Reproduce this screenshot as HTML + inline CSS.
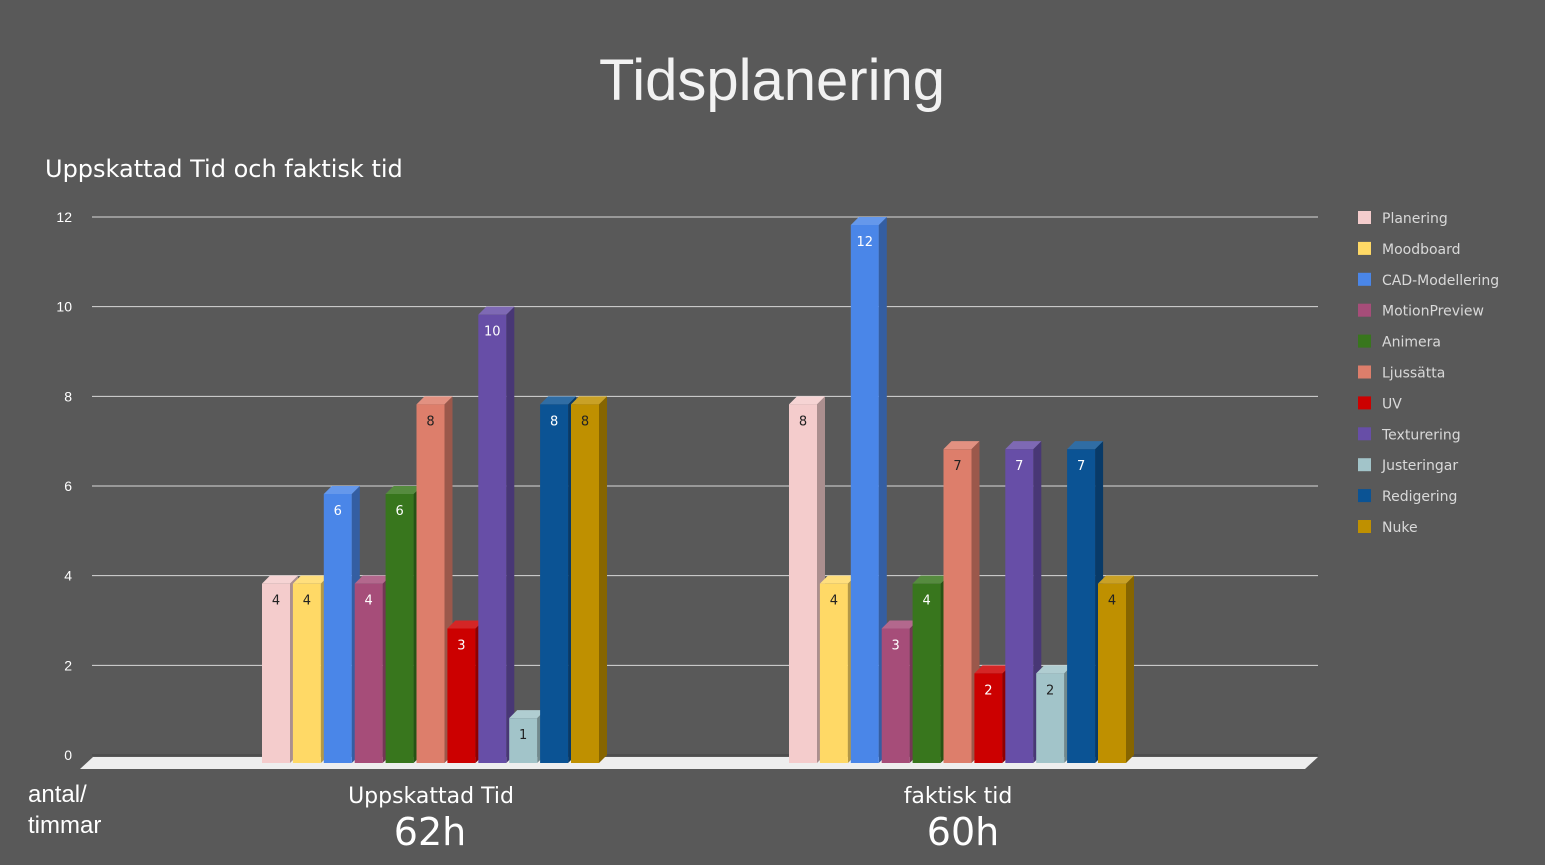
<!DOCTYPE html>
<html><head><meta charset="utf-8"><style>
body{margin:0;background:#595959;}
svg{display:block;font-family:"Liberation Sans","DejaVu Sans",sans-serif;}
</style></head><body>
<svg id="chart" width="1545" height="865">
<rect width="1545" height="865" fill="#595959"/>
<text x="772" y="100" text-anchor="middle" font-size="58" fill="#f2f2f2">Tidsplanering</text>
<text x="45" y="177" font-size="24" fill="#ffffff" font-family="DejaVu Sans">Uppskattad Tid och faktisk tid</text>
<g id="grid"></g>
<polygon points="80,769 93,757 1318,757 1305,769" fill="#eeeeee"/>
<g id="bars"></g>
<g id="legend"></g>
<text x="28" y="802" font-size="24" fill="#fff">antal/</text>
<text x="28" y="833" font-size="24" fill="#fff">timmar</text>
<text x="431" y="803" text-anchor="middle" font-size="22" fill="#fff" font-family="DejaVu Sans">Uppskattad Tid</text>
<text x="958" y="803" text-anchor="middle" font-size="22" fill="#fff" font-family="DejaVu Sans">faktisk tid</text>
<text x="430" y="845" text-anchor="middle" font-size="38" fill="#fff" font-family="DejaVu Sans">62h</text>
<text x="963" y="845" text-anchor="middle" font-size="38" fill="#fff" font-family="DejaVu Sans">60h</text>
</svg>
<script>
const categories=["Uppskattad Tid","faktisk tid"];
const seriesNames=["Planering","Moodboard","CAD-Modellering","MotionPreview","Animera","Ljussätta","UV","Texturering","Justeringar","Redigering","Nuke"];
const estimated=[4,4,6,4,6,8,3,10,1,8,8];
const actual=[8,4,12,3,4,7,2,7,2,7,4];
const yTicks=[0,2,4,6,8,10,12];
const colors=["#f4cccc","#ffd966","#4a86e8","#a64d79","#38761d","#dd7e6b","#cc0000","#674ea7","#a2c4c9","#0b5394","#bf9000"];
const darkText=[true,true,false,false,false,true,false,false,true,false,true];
const NS="http://www.w3.org/2000/svg";
const y=v=>755-v*(538/12);
const groupStart=[262,789],step=30.9,bw=28,d=8;
function mk(tag,attrs,parent){const e=document.createElementNS(NS,tag);for(const k in attrs)e.setAttribute(k,attrs[k]);parent.appendChild(e);return e;}
function shade(c,f){const n=parseInt(c.slice(1),16);let r=n>>16,g=(n>>8)&255,b=n&255;const s=x=>Math.max(0,Math.min(255,Math.round(f<1?x*f:x+(255-x)*(f-1))));return `rgb(${s(r)},${s(g)},${s(b)})`;}
const grid=document.getElementById('grid');
yTicks.forEach(t=>{
 const l=mk('line',{x1:92,x2:1318,y1:y(t),y2:y(t),stroke:t===0?'#444':'#d9d9d9','stroke-width':1},grid);
 
 
 const tx=mk('text',{x:72,y:y(t)+5,'text-anchor':'end','font-size':14,fill:'#fff'},grid);
 tx.textContent=t;
 
 
});
const bars=document.getElementById('bars');
[estimated,actual].forEach((vals,gi)=>{
 vals.forEach((v,i)=>{
  const x=groupStart[gi]+i*step, top=y(v)+d, bot=763;
  const g=mk('g',{},bars);
  
  
  mk('polygon',{points:`${x+bw},${top} ${x+bw+d},${top-d} ${x+bw+d},${bot-d} ${x+bw},${bot}`,fill:shade(colors[i],0.7)},g);
  mk('polygon',{points:`${x},${top} ${x+d},${top-d} ${x+bw+d},${top-d} ${x+bw},${top}`,fill:shade(colors[i],1.15)},g);
  mk('rect',{x:x,y:top,width:bw,height:bot-top,fill:colors[i]},g);
  const t=mk('text',{x:x+bw/2,y:top+21,'text-anchor':'middle','font-size':13,fill:darkText[i]?'#222':'#fff','font-family':'DejaVu Sans'},g);
  t.textContent=v;
 });
});
const lg=document.getElementById('legend');
seriesNames.forEach((n,i)=>{
 const g=mk('g',{},lg);
 
 
 const yy=218+i*30.9;
 mk('rect',{x:1358,y:yy-7,width:13,height:13,fill:colors[i]},g);
 const t=mk('text',{x:1382,y:yy+5,'font-size':14,fill:'#d9d9d9','font-family':'DejaVu Sans'},g);
 t.textContent=n;
});
</script>
</body></html>
